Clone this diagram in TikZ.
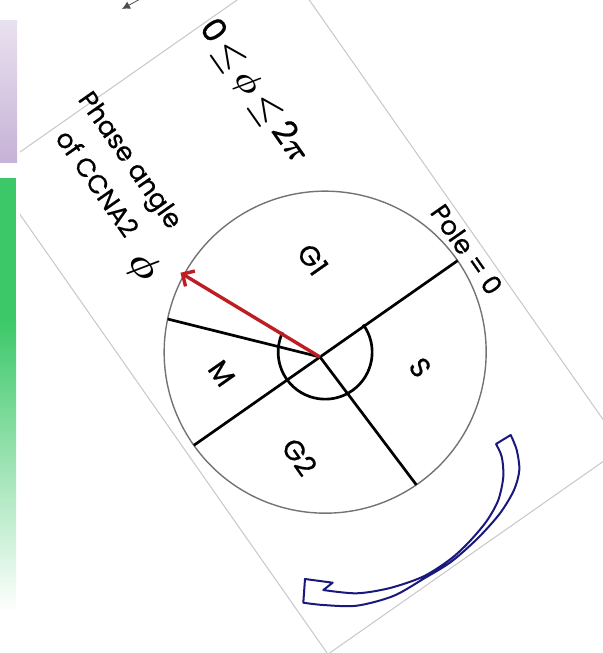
\documentclass[tikz,border=0pt]{standalone}
\usepackage{fontspec}
\setmainfont{Poppins}[FakeBold=0.6]
\usetikzlibrary{arrows.meta}
\definecolor{phasered}{RGB}{190,30,35}
\definecolor{cycleblue}{RGB}{25,25,125}
\definecolor{barpurple}{RGB}{192,170,210}
\definecolor{bargreen}{RGB}{60,200,105}

\begin{document}
\begin{tikzpicture}[x=0.5pt,y=-0.5pt,
  phase line/.style={line width=1.35pt},
  phase label/.style={font=\fontsize{14}{16}\selectfont},
  ]
  \useasboundingbox (0,0) rectangle (602,653);
  % side bars
  \shade[top color=barpurple!35, bottom color=barpurple!90] (0,20) rectangle (17,162);
  \fill[bargreen] (0,178) rectangle (16,320);
  \shade[top color=bargreen, bottom color=white] (0,320) rectangle (16,612);
  \draw[black!70, -{Latex[length=4pt,width=4pt]}] (142,-2) -- (122,9);
  % the card, turned
  \begin{scope}
    \clip (20,-5) rectangle (610,660);
    \begin{scope}[shift={(320,357)}, y=0.5pt, rotate=-55, transform shape]
      \coordinate (o) at (0,0);
      \coordinate (c) at (-1,7);
      \draw[black!22, line width=0.5pt] (-340,-164) rectangle (248,196);
      \draw[black!55, line width=0.7pt] (c) circle[radius=161];
      \begin{scope}
        \clip (c) circle[radius=161];
        \foreach \a in {90,2,270,221}
          \draw[phase line] (o) -- (\a:200);
      \end{scope}
      \draw[phase line] (c) ++(91:47) arc[start angle=91, end angle=-150, radius=47];
      \coordinate (tip) at (-149,-66);
      \draw[phasered, line width=1.7pt, -{Straight Barb[length=4.5pt,width=9pt]}] (o) -- (tip);
      \node[phase label] (g1) at (-84,50) {G1};
      \node[phase label] (s) at (66,76) {S};
      \node[phase label] (g2) at (70,-74) {G2};
      \node[phase label] (m) at (-43,-90) {M};
      \node[font=\fontsize{13}{16}\selectfont] (pole) at (-4,182) {Pole = 0};
      \node[font=\boldmath, scale=1.9] (phi) at (-175,-93) {$\phi$};
      \node[font=\fontsize{13}{20.5}\selectfont, align=center] (name) at (-270,-62) {Phase angle\\of CCNA2};
      \node[font=\fontsize{10}{12}\selectfont\boldmath, scale=1.65] (range) at (-255,98) {0\,${\leq}$\,$\phi$\,${\leq}$\,2$\pi$};
    \end{scope}
  \end{scope}
  % direction of the cycle
  \draw[cycleblue, line width=1pt, line join=round, fill=white]
    (510.7,435) -- (496,444)
    -- plot[smooth] coordinates {(496,444) (501.7,456.7) (503.3,476.7) (498.3,500) (486.7,521) (469,542) (450,559.5) (423.3,576.5) (390,588) (356.7,593.3) (323.3,590)}
    -- (332.7,582.7) -- (305,579) -- (303.3,602.7)
    -- plot[smooth] coordinates {(303.3,602.7) (323.3,605) (356.7,605.7) (393.3,596) (424,578.5) (451.5,561.5) (478,538) (500,513.3) (514,490) (519.3,470) (516.7,450) (510.7,435)}
    -- cycle;
\end{tikzpicture}
\end{document}
